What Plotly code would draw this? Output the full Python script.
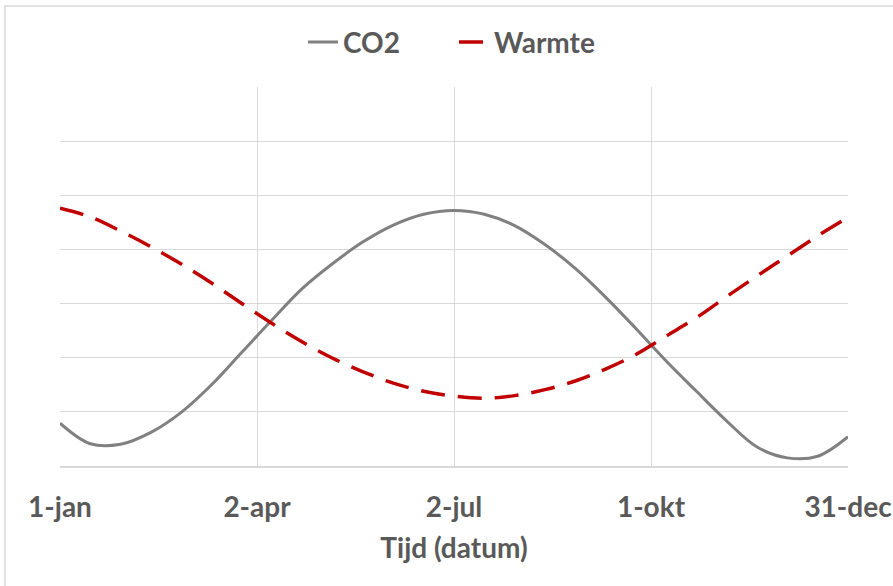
import plotly.graph_objects as go

# Day index within the year (0 = 1-jan, 364 = 31-dec)
tick_days = [0, 91, 182, 273, 364]
tick_labels = ["1-jan", "2-apr", "2-jul", "1-okt", "31-dec"]

days = [0, 14, 28, 42, 56, 70, 84, 98, 112, 126, 140, 154, 168, 182, 196,
        210, 224, 238, 252, 266, 280, 294, 308, 322, 336, 350, 364]

co2_values = [0.79, 0.41, 0.40, 0.62, 0.99, 1.50, 2.10, 2.70, 3.28, 3.74, 4.14,
              4.45, 4.65, 4.72, 4.65, 4.44, 4.09, 3.65, 3.12, 2.54, 1.94, 1.38,
              0.83, 0.35, 0.15, 0.18, 0.54]

warmte_values = [4.76, 4.60, 4.34, 4.05, 3.73, 3.38, 3.00, 2.63, 2.29, 1.99,
                 1.74, 1.53, 1.38, 1.29, 1.25, 1.30, 1.41, 1.57, 1.79, 2.06,
                 2.40, 2.74, 3.13, 3.51, 3.88, 4.25, 4.59]

FONT = "Lato"
TEXT = "#595959"
GRID = "#d9d9d9"
FS = 28

fig = go.Figure()
fig.add_trace(go.Scatter(
    x=days, y=co2_values, name="CO2", mode="lines",
    line=dict(color="#808080", width=3, shape="spline", smoothing=1.0),
))
fig.add_trace(go.Scatter(
    x=days, y=warmte_values, name="Warmte", mode="lines",
    line=dict(color="#c00000", width=3.5, shape="spline", smoothing=1.0,
              dash="24px,13px"),
))

fig.update_layout(
    width=893, height=586,
    margin=dict(l=60, r=45, t=87, b=120),
    paper_bgcolor="white", plot_bgcolor="white",
    font=dict(family=FONT, color=TEXT, size=FS),
    showlegend=True,
    legend=dict(
        orientation="h", x=0.5, xanchor="center",
        yref="container", y=0.928, yanchor="middle",
        font=dict(family=FONT, size=FS, color=TEXT, weight="bold"),
        traceorder="normal", entrywidth=106, entrywidthmode="pixels",
    ),
    xaxis=dict(
        range=[0, 364], tickmode="array", tickvals=tick_days, ticktext=tick_labels,
        showgrid=True, gridcolor=GRID, gridwidth=1,
        showline=True, linecolor=GRID, linewidth=1.5,
        zeroline=False, ticks="", ticklabelstandoff=16,
        tickfont=dict(family=FONT, size=FS, color=TEXT, weight="bold"),
        automargin=False,
        title=dict(text="Tijd (datum)", standoff=16,
                   font=dict(family=FONT, size=FS, color=TEXT, weight="bold")),
    ),
    yaxis=dict(
        range=[0, 7], dtick=1, showticklabels=False,
        showgrid=True, gridcolor=GRID, gridwidth=1,
        zeroline=False, showline=False, automargin=False,
    ),
    shapes=[dict(
        type="rect", xref="paper", yref="paper",
        x0=-0.0698, x1=1.06, y0=-0.33, y1=1.2137,
        line=dict(color=GRID, width=1.5), layer="below",
    )],
)

fig.write_html("out.html", config={"displayModeBar": False},
               post_script="document.body.style.margin='0';")
